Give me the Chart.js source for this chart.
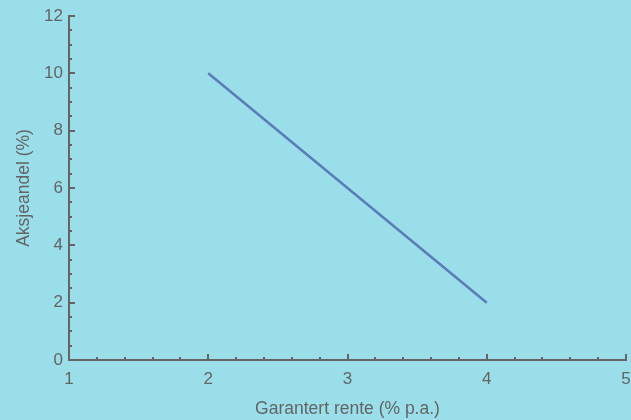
<!DOCTYPE html>
<html>
<head>
<meta charset="utf-8">
<script src="https://cdn.jsdelivr.net/npm/chart.js@4.4.1/dist/chart.umd.min.js"></script>
<style>
  html, body { margin: 0; padding: 0; background: #99dee9; }
  #wrap { width: 631px; height: 420px; }
</style>
</head>
<body>
<div id="wrap"><canvas id="chart" width="631" height="420"></canvas></div>
<script>
// Data
const rente = [2, 4];          // Garantert rente (% p.a.)
const aksjeandel = [10, 2];    // Aksjeandel (%)
const xTicks = [1, 2, 3, 4, 5];
const yTicks = [0, 2, 4, 6, 8, 10, 12];

const axisColor = '#646464';
const bg = '#99dee9';
const fontFam = 'Liberation Sans, Arial, sans-serif';

// Background + inward ticks (major and minor), placed via the scales
const tickPlugin = {
    id: 'inwardTicks',
    beforeDraw(chart) {
        const ctx = chart.ctx;
        ctx.save();
        ctx.fillStyle = bg;
        ctx.fillRect(0, 0, chart.width, chart.height);
        ctx.restore();
    },
    afterDraw(chart) {
        const ctx = chart.ctx;
        const xs = chart.scales.x;
        const ys = chart.scales.y;
        const area = chart.chartArea;
        ctx.save();
        ctx.strokeStyle = axisColor;
        ctx.lineWidth = 2;
        // x axis ticks
        for (let i = 0; i <= 20; i++) {
            const v = 1 + i * 0.2;
            const px = Math.round(xs.getPixelForValue(v));
            const len = (i % 5 === 0) ? 6 : 3;
            ctx.beginPath();
            ctx.moveTo(px, area.bottom);
            ctx.lineTo(px, area.bottom - len);
            ctx.stroke();
        }
        // y axis ticks
        for (let i = 0; i <= 24; i++) {
            const v = i * 0.5;
            const py = Math.round(ys.getPixelForValue(v));
            const len = (i % 4 === 0) ? 6 : 3;
            ctx.beginPath();
            ctx.moveTo(area.left, py);
            ctx.lineTo(area.left + len, py);
            ctx.stroke();
        }
        ctx.restore();
    }
};

new Chart(document.getElementById('chart'), {
    type: 'scatter',
    data: {
        datasets: [{
            data: rente.map((x, i) => ({ x: x, y: aksjeandel[i] })),
            showLine: true,
            borderColor: '#5a7cb9',
            borderWidth: 2.5,
            pointRadius: 0,
            fill: false
        }]
    },
    options: {
        responsive: false,
        animation: false,
        layout: { padding: { top: 16, right: 5, left: 0, bottom: 0 } },
        plugins: { legend: { display: false }, tooltip: { enabled: false } },
        scales: {
            x: {
                type: 'linear',
                min: 1, max: 5,
                afterBuildTicks: s => { s.ticks = xTicks.map(v => ({ value: v })); },
                afterFit: s => { s.height = 60; s.paddingRight = 0; s.paddingLeft = 0; },
                grid: { display: false, drawTicks: false },
                border: { display: true, color: axisColor, width: 2 },
                ticks: { color: axisColor, padding: 9, font: { family: fontFam, size: 17 } },
                title: {
                    display: true,
                    text: 'Garantert rente (% p.a.)',
                    color: axisColor,
                    padding: { top: 2, bottom: 0 },
                    font: { family: fontFam, size: 17.5 }
                }
            },
            y: {
                min: 0, max: 12,
                afterBuildTicks: s => { s.ticks = yTicks.map(v => ({ value: v })); },
                afterFit: s => { s.width = 69; s.paddingTop = 0; s.paddingBottom = 0; },
                grid: { display: false, drawTicks: false },
                border: { display: true, color: axisColor, width: 2 },
                ticks: { color: axisColor, padding: 6, font: { family: fontFam, size: 17 } },
                title: {
                    display: true,
                    text: 'Aksjeandel (%)',
                    color: axisColor,
                    padding: { top: 14, bottom: 0 },
                    font: { family: fontFam, size: 17.5 }
                }
            }
        }
    },
    plugins: [tickPlugin]
});
</script>
</body>
</html>
